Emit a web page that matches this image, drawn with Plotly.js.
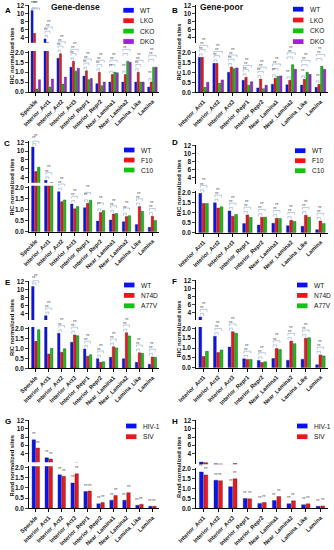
<!DOCTYPE html>
<html><head><meta charset="utf-8">
<script src="https://cdn.plot.ly/plotly-3.0.1.min.js"></script>
<style>html,body{margin:0;padding:0;background:#fff}#c{width:334px;height:550px}</style>
</head><body><div id="c"></div>
<script>
// ---------- categories ----------
const catsAll = ['Speckle','Interior_Act1','Interior_Act2','Interior_Act3','Interior_Repr1','Interior_Repr2','Near_Lamina1','Near_Lamina2','Lamina_Like','Lamina'];
const catsNoSpeckle = ['Interior_Act1','Interior_Act2','Interior_Act3','Interior_Repr1','Interior_Repr2','Near_Lamina1','Near_Lamina2','Lamina_Like','Lamina'];

// ---------- series names ----------
const namesKO = ['WT','LKO','CKO','DKO'];
const namesFC = ['WT','F10','C10'];
const namesNA = ['WT','N74D','A77V'];
const namesVirus = ['HIV-1','SIV'];

// ---------- panel titles / axis titles ----------
const titleA = 'Gene-dense';
const titleB = 'Gene-poor';
const yTitleRIC = 'RIC normalized sites';
const yTitleRand = 'Rand normalized sites';
const upperTicks = [4,6,8,10,12];
const lowerTicks = [0,0.5,1,1.5,2];

// ---------- values ----------
// A: Gene-dense, KO lines
const aWT  = [10.8,3.6,1.70,1.25,0.80,0.42,0.50,0.50,0.50,0.25];
const aLKO = [5.0,2.7,1.93,1.55,1.07,1.00,0.88,0.88,1.00,0.50];
const aCKO = [0.15,0.25,0.40,1.05,0.62,0.32,1.00,1.55,0.50,1.25];
const aDKO = [0.62,0.65,0.75,1.20,0.68,0.50,0.97,1.50,0.50,1.25];
// B: Gene-poor, KO lines
const bWT  = [1.75,1.45,1.00,0.60,0.22,0.40,0.38,0.36,0.25];
const bLKO = [1.75,1.45,1.27,0.75,0.66,0.70,0.60,0.65,0.40];
const bCKO = [0.25,0.45,1.18,0.35,0.18,0.80,1.38,1.00,1.30];
const bDKO = [0.50,0.62,1.22,0.53,0.35,0.82,1.15,0.90,1.15];
// C: Gene-dense, F10/C10
const cWT  = [10.9,3.3,1.80,1.25,1.08,0.48,0.53,0.45,0.32,0.20];
const cF10 = [5.3,2.5,1.35,1.03,1.28,0.87,0.80,0.68,1.13,0.70];
const cC10 = [6.3,2.8,1.43,1.13,1.42,0.95,0.82,0.72,0.92,0.50];
// D: Gene-poor, F10/C10
const dWT  = [1.95,1.48,1.08,0.45,0.38,0.47,0.35,0.32,0.15];
const dF10 = [1.45,1.22,0.82,0.88,0.77,0.72,0.62,0.87,0.58];
const dC10 = [1.45,1.28,0.90,0.75,0.77,0.70,0.55,0.77,0.45];
// E: Gene-dense, N74D/A77V
const eWT   = [10.8,3.4,1.75,1.30,0.97,0.48,0.55,0.48,0.30,0.20];
const eN74D = [1.35,0.72,0.80,1.67,0.60,0.30,1.08,1.78,0.78,0.57];
const eA77V = [1.93,1.00,0.98,1.63,0.68,0.33,1.02,1.62,0.75,0.55];
// F: Gene-poor, N74D/A77V
const fWT   = [2.9,1.60,1.05,0.45,0.37,0.47,0.38,0.43,0.15];
const fN74D = [0.57,0.77,1.83,0.42,0.27,0.98,1.35,1.50,0.65];
const fA77V = [0.83,0.90,1.75,0.42,0.30,0.93,1.22,1.52,0.60];
// G: Gene-dense, viruses
const gHIV = [7.3,2.9,1.65,1.25,0.83,0.22,0.40,0.40,0.15,0.10];
const gSIV = [5.3,2.6,1.58,1.70,0.85,0.28,0.63,0.77,0.20,0.10];
// H: Gene-poor, viruses
const hHIV = [1.85,1.43,1.10,0.50,0.25,0.40,0.23,0.18,0.10];
const hSIV = [1.70,1.40,1.50,0.48,0.30,0.60,0.38,0.23,0.12];

// ---------- styling ----------
const COLORS = ['#0a12f2','#f2141a','#12c412','#a21ee4'];
const FONT = 'Liberation Sans, Arial, sans-serif';
const W = 334, H = 550;
const px2x = p => p / W;
const px2y = p => 1 - p / H;

// panel geometry (pixels) -- layout only
const panels = [
  {L:'A', cats:catsAll, names:namesKO, vals:[aWT,aLKO,aCKO,aDKO], ax:29.3, cw:12.96, v12:5.7,  v4:37.3,  bb:42.7,  v2:52.3,  v0:92.0,  yt:yTitleRIC, ytx:11.5, yty:56,  lx:123.3, ly:10.3, ls:10.4, gw:0.76, brackets:true, lettery:4, letterx:3},
  {L:'B', cats:catsNoSpeckle, names:namesKO, vals:[bWT,bLKO,bCKO,bDKO], ax:196.3, cw:14.6, v12:6.0, v4:37.0, bb:42.7, v2:52.3, v0:92.3, yt:yTitleRIC, ytx:178.5, yty:52, lx:293, ly:9.2, ls:10.8, gw:0.76, brackets:true, lettery:4, letterx:170},
  {L:'C', cats:catsAll, names:namesFC, vals:[cWT,cF10,cC10], ax:29.3, cw:12.96, v12:142.3, v4:177.3, bb:182.7, v2:187.3, v0:231.7, yt:yTitleRIC, ytx:11.5, yty:187, lx:124, ly:150, ls:10, gw:0.68, brackets:true, lettery:137, letterx:2},
  {L:'D', cats:catsNoSpeckle, names:namesFC, vals:[dWT,dF10,dC10], ax:196.3, cw:14.6, v12:145.7, v4:177.7, bb:184.3, v2:192.3, v0:232.7, yt:yTitleRIC, ytx:178.5, yty:188, lx:295, ly:150.7, ls:10, gw:0.68, brackets:true, lettery:136, letterx:170},
  {L:'E', cats:catsAll, names:namesNA, vals:[eWT,eN74D,eA77V], ax:29.3, cw:12.96, v12:281.7, v4:313.3, bb:320, v2:328.3, v0:368.3, yt:yTitleRIC, ytx:11.5, yty:327.5, lx:124, ly:285, ls:10.4, gw:0.68, brackets:true, lettery:276, letterx:3},
  {L:'F', cats:catsNoSpeckle, names:namesNA, vals:[fWT,fN74D,fA77V], ax:196.3, cw:14.6, v12:281, v4:312.7, bb:320, v2:328.3, v0:367.7, yt:yTitleRIC, ytx:178.5, yty:329, lx:297, ly:285, ls:10.4, gw:0.68, brackets:true, lettery:275, letterx:170},
  {L:'G', cats:catsAll, names:namesVirus, vals:[gHIV,gSIV], ax:29.3, cw:12.96, v12:420.7, v4:453.3, bb:462.3, v2:467.7, v0:508.3, yt:yTitleRand, ytx:11.5, yty:466, lx:126, ly:426, ls:10.7, gw:0.62, brackets:false, lettery:415, letterx:3},
  {L:'H', cats:catsNoSpeckle, names:namesVirus, vals:[hHIV,hSIV], ax:196.3, cw:14.6, v12:420.7, v4:453.3, bb:464.3, v2:469, v0:508.3, yt:yTitleRand, ytx:178.5, yty:467.5, lx:297, ly:426, ls:10.7, gw:0.62, brackets:false, lettery:415, letterx:170}
];

const data = [];
const layout = {
  width: W, height: H, margin:{l:0,r:0,t:0,b:0},
  paper_bgcolor:'#fff', plot_bgcolor:'rgba(0,0,0,0)',
  barmode:'overlay', showlegend:false,
  font:{family:FONT, color:'#111'},
  annotations:[], shapes:[]
};

const LOW_HI = 2.07, UP_HI = 12.25;

panels.forEach((p, i) => {
  const xi = i + 1, yl = 2*i + 1, yu = 2*i + 2;
  const xa = 'x' + (xi === 1 ? '' : xi);
  const yla = 'y' + (yl === 1 ? '' : yl);
  const yua = 'y' + yu;
  const n = p.names.length;
  const nc = p.cats.length;
  const ppuL = (p.v0 - p.v2) / 2;
  const ppuU = (p.v4 - p.v12) / 8;
  const lowTop = p.v0 - LOW_HI * ppuL;
  const upLo = 12 - (p.bb - p.v12) / ppuU;
  const upTop = p.v12 - (UP_HI - 12) * ppuU;
  const xEnd = p.ax + nc * p.cw;

  // bar geometry
  const slot = p.gw / n;
  const bw = slot * 0.86;
  const offs = [...Array(n).keys()].map(k => -p.gw/2 + k*slot + (slot-bw)/2);
  const centers = offs.map(o => o + bw/2);

  p.vals.forEach((v, k) => {
    [yla, yua].forEach(ya => {
      data.push({type:'bar', x:p.cats, y:v, xaxis:xa, yaxis:ya, name:p.names[k],
        width:bw, offset:offs[k],
        marker:{color:COLORS[k], line:{width:0.4, color:'#333'}},
        hoverinfo:'skip', showlegend:false});
    });
  });

  const xName = 'xaxis' + (xi === 1 ? '' : xi);
  layout[xName] = {
    domain:[px2x(p.ax), px2x(xEnd)], anchor:yla, type:'category',
    range:[-0.5, nc - 0.5], showline:true, linecolor:'#000', linewidth:1,
    ticks:'outside', ticklen:3, tickwidth:1, tickcolor:'#000',
    tickangle:-45, tickfont:{family:FONT, size:5.7, weight:'bold', color:'#111'},
    showgrid:false, zeroline:false, fixedrange:true
  };
  layout['yaxis' + (yl === 1 ? '' : yl)] = {
    domain:[px2y(p.v0), px2y(lowTop)], anchor:xa, range:[0, LOW_HI],
    tickvals:lowerTicks, ticktext:lowerTicks.map(t => t.toFixed(1)),
    showline:true, linecolor:'#000', linewidth:1, ticks:'outside', ticklen:3, tickwidth:1,
    tickfont:{family:FONT, size:6.5, weight:'bold', color:'#111'},
    showgrid:false, zeroline:false, fixedrange:true
  };
  layout['yaxis' + yu] = {
    domain:[px2y(p.bb), px2y(upTop)], anchor:xa, range:[upLo, UP_HI],
    tickvals:upperTicks, showline:true, linecolor:'#000', linewidth:1,
    ticks:'outside', ticklen:3, tickwidth:1,
    tickfont:{family:FONT, size:6.5, weight:'bold', color:'#111'},
    showgrid:false, zeroline:false, fixedrange:true
  };

  // panel letter
  layout.annotations.push({xref:'paper', yref:'paper', x:px2x(p.letterx), y:px2y(p.lettery),
    xanchor:'left', yanchor:'top', showarrow:false, text:'<b>'+p.L+'</b>',
    font:{family:FONT, size:8, color:'#000'}});
  // y title
  layout.annotations.push({xref:'paper', yref:'paper', x:px2x(p.ytx), y:px2y(p.yty),
    xanchor:'center', yanchor:'middle', showarrow:false, textangle:-90,
    text:'<b>'+p.yt+'</b>', font:{family:FONT, size:5.8, color:'#111'}});
  // legend
  p.names.forEach((nm, k) => {
    const cy = p.ly + k * p.ls;
    layout.shapes.push({type:'rect', xref:'paper', yref:'paper',
      x0:px2x(p.lx), x1:px2x(p.lx + 10.5), y0:px2y(cy + 2.4), y1:px2y(cy - 2.4),
      fillcolor:COLORS[k], line:{width:0}});
    layout.annotations.push({xref:'paper', yref:'paper', x:px2x(p.lx + 14.5), y:px2y(cy),
      xanchor:'left', yanchor:'middle', showarrow:false, text:nm,
      font:{family:FONT, size:6.6, color:'#111'}});
  });

  // pixel position of a bar top (for significance marks)
  const topPx = v => {
    if (v <= LOW_HI) return p.v0 - v * ppuL;
    if (v >= upLo) return p.v12 - (v - 12) * ppuU;
    return lowTop;
  };
  const BR = '#a8bcdc';
  const minY = Math.max(upTop, 8);
  p.cats.forEach((c, ci) => {
    if (p.brackets) {
      for (let k = 1; k < n; k++) {
        let top = Infinity;
        for (let j = 0; j <= k; j++) top = Math.min(top, topPx(p.vals[j][ci]));
        let yb = top - 3.5 - 4.2 * (k - 1);
        yb = Math.max(yb, minY);
        const xL = ci + centers[0], xR = ci + centers[k];
        const Y = px2y(yb), Yl = px2y(yb + 2.2);
        layout.shapes.push({type:'line', xref:xa, yref:'paper', x0:xL, x1:xR, y0:Y, y1:Y, line:{color:BR, width:0.8}});
        layout.shapes.push({type:'line', xref:xa, yref:'paper', x0:xL, x1:xL, y0:Y, y1:Yl, line:{color:BR, width:0.8}});
        layout.shapes.push({type:'line', xref:xa, yref:'paper', x0:xR, x1:xR, y0:Y, y1:Yl, line:{color:BR, width:0.8}});
        layout.annotations.push({xref:xa, yref:'paper', x:(xL + xR)/2, y:px2y(yb - 0.2),
          xanchor:'center', yanchor:'bottom', showarrow:false, text:'**',
          font:{family:FONT, size:4.5, color:'#555'}});
      }
    } else {
      for (let k = 0; k < n; k++) {
        const yb = topPx(p.vals[k][ci]) - 0.5;
        layout.annotations.push({xref:xa, yref:'paper', x:ci + centers[k], y:px2y(yb),
          xanchor:'center', yanchor:'bottom', showarrow:false, text:'**',
          font:{family:FONT, size:4.5, color:'#555'}});
      }
    }
  });
});

// column titles
layout.annotations.push({xref:'paper', yref:'paper', x:px2x(75), y:px2y(7), xanchor:'center', yanchor:'middle',
  showarrow:false, text:'<b>'+titleA+'</b>', font:{family:FONT, size:8.5, color:'#111'}});
layout.annotations.push({xref:'paper', yref:'paper', x:px2x(222), y:px2y(7), xanchor:'center', yanchor:'middle',
  showarrow:false, text:'<b>'+titleB+'</b>', font:{family:FONT, size:8.5, color:'#111'}});

Plotly.newPlot('c', data, layout, {staticPlot:true, displayModeBar:false});
</script></body></html>
